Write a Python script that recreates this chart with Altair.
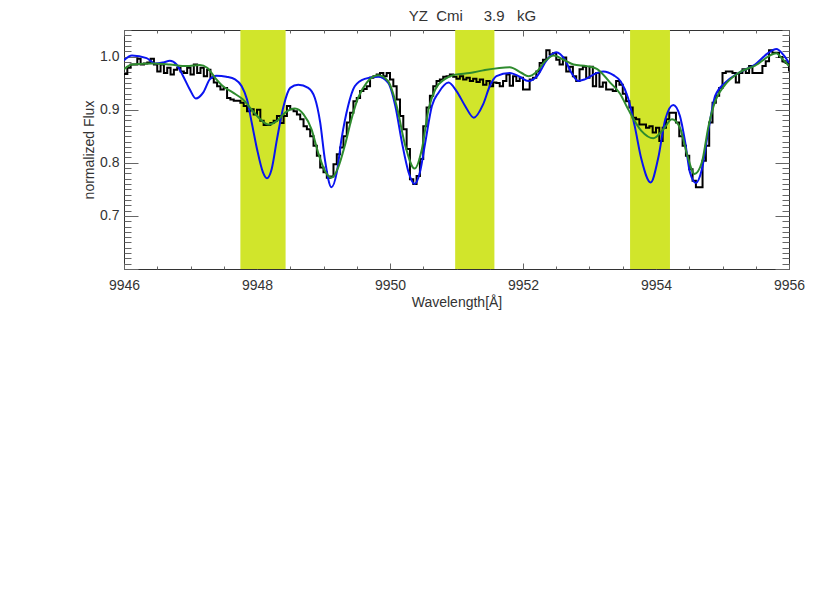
import altair as alt
import pandas as pd

# ---------------- data ----------------
obs_start = 9946.0
obs_step = 0.05
obs_flux = [
    0.967, 0.979, 0.985, 0.985, 0.996, 0.985, 0.987, 0.989, 0.996, 0.985,
    0.972, 0.985, 0.969, 0.979, 0.966, 0.975, 0.979, 0.972, 0.969, 0.979,
    0.966, 0.985, 0.969, 0.979, 0.963, 0.975, 0.960, 0.951, 0.944, 0.938,
    0.941, 0.922, 0.919, 0.917, 0.917, 0.913, 0.907, 0.897, 0.901, 0.891,
    0.900, 0.879, 0.871, 0.871, 0.875, 0.879, 0.888, 0.875, 0.888, 0.907,
    0.901, 0.897, 0.891, 0.882, 0.869, 0.863, 0.850, 0.832, 0.813, 0.791,
    0.782, 0.772, 0.774, 0.797, 0.816, 0.829, 0.850, 0.876, 0.894, 0.916,
    0.922, 0.935, 0.939, 0.944, 0.960, 0.963, 0.966, 0.969, 0.963, 0.969,
    0.957, 0.944, 0.919, 0.888, 0.863, 0.826, 0.769, 0.760, 0.775, 0.807,
    0.869, 0.904, 0.926, 0.944, 0.954, 0.957, 0.962, 0.963, 0.966, 0.962,
    0.958, 0.963, 0.957, 0.960, 0.954, 0.958, 0.952, 0.957, 0.947, 0.954,
    0.944, 0.951, 0.950, 0.944, 0.954, 0.966, 0.945, 0.963, 0.954, 0.960,
    0.938, 0.938, 0.957, 0.960, 0.972, 0.988, 0.994, 1.012, 1.004, 1.006,
    0.994, 0.985, 0.998, 0.972, 0.981, 0.963, 0.954, 0.976, 0.981, 0.960,
    0.981, 0.944, 0.969, 0.943, 0.951, 0.938, 0.938, 0.935, 0.954, 0.947,
    0.930, 0.916, 0.904, 0.885, 0.882, 0.872, 0.872, 0.866, 0.869, 0.857,
    0.866, 0.841, 0.866, 0.882, 0.894, 0.894, 0.876, 0.850, 0.832, 0.813,
    0.788, 0.766, 0.754, 0.754, 0.804, 0.832, 0.876, 0.913, 0.926, 0.941,
    0.969, 0.972, 0.972, 0.969, 0.951, 0.969, 0.976, 0.969, 0.982, 0.969,
    0.969, 0.969, 0.982, 0.991, 1.012, 1.007, 1.007, 0.999, 0.991, 0.988,
    0.972,
]

blue_wl = [
    9946.00, 9946.12, 9946.34, 9946.47, 9946.59, 9946.69, 9946.79, 9946.89,
    9946.99, 9947.08, 9947.19, 9947.29, 9947.39, 9947.54, 9947.67, 9947.77,
    9947.85, 9947.92, 9948.00, 9948.09, 9948.15, 9948.22, 9948.30, 9948.40,
    9948.50, 9948.62, 9948.77, 9948.87, 9948.95, 9949.02, 9949.12, 9949.20,
    9949.27, 9949.37, 9949.47, 9949.62, 9949.82, 9949.97, 9950.08, 9950.18,
    9950.28, 9950.37, 9950.45, 9950.53, 9950.63, 9950.73, 9950.88, 9951.00,
    9951.13, 9951.26, 9951.40, 9951.50, 9951.60, 9951.80, 9951.95, 9952.08,
    9952.21, 9952.36, 9952.50, 9952.63, 9952.73, 9952.83, 9952.93, 9953.11,
    9953.21, 9953.36, 9953.47, 9953.58, 9953.68, 9953.78, 9953.92, 9954.03,
    9954.14, 9954.26, 9954.36, 9954.44, 9954.51, 9954.60, 9954.69, 9954.79,
    9954.89, 9955.04, 9955.24, 9955.49, 9955.69, 9955.81, 9955.91, 9956.00,
]
blue_flux = [
    0.993, 1.002, 0.997, 0.987, 0.989, 0.992, 0.985, 0.963,
    0.938, 0.921, 0.932, 0.957, 0.964, 0.962, 0.957, 0.944,
    0.919, 0.876, 0.826, 0.782, 0.771, 0.788, 0.844, 0.907,
    0.941, 0.947, 0.941, 0.922, 0.876, 0.807, 0.754, 0.782,
    0.844, 0.907, 0.944, 0.958, 0.962, 0.951, 0.907, 0.838,
    0.782, 0.760, 0.782, 0.838, 0.907, 0.932, 0.951, 0.935,
    0.907, 0.885, 0.910, 0.944, 0.963, 0.969, 0.962, 0.954,
    0.963, 0.994, 1.008, 0.994, 0.969, 0.954, 0.957, 0.969,
    0.972, 0.965, 0.953, 0.922, 0.869, 0.807, 0.763, 0.807,
    0.882, 0.909, 0.888, 0.838, 0.782, 0.762, 0.788, 0.863,
    0.926, 0.951, 0.969, 0.985, 1.007, 1.014, 1.004, 0.988,
]

green_wl = [
    9946.00, 9946.12, 9946.44, 9946.69, 9946.94, 9947.14, 9947.25, 9947.37,
    9947.49, 9947.64, 9947.79, 9947.94, 9948.05, 9948.17, 9948.30, 9948.42,
    9948.57, 9948.70, 9948.82, 9948.92, 9949.02, 9949.12, 9949.22, 9949.32,
    9949.42, 9949.52, 9949.65, 9949.82, 9949.97, 9950.10, 9950.23, 9950.37,
    9950.48, 9950.58, 9950.68, 9950.83, 9950.98, 9951.20, 9951.40, 9951.80,
    9951.98, 9952.08, 9952.21, 9952.33, 9952.46, 9952.61, 9952.76, 9952.96,
    9953.11, 9953.31, 9953.46, 9953.58, 9953.78, 9953.96, 9954.11, 9954.24,
    9954.36, 9954.46, 9954.58, 9954.69, 9954.79, 9954.89, 9955.04, 9955.24,
    9955.49, 9955.81, 9955.89, 9956.00,
]
green_flux = [
    0.976, 0.985, 0.987, 0.985, 0.982, 0.984, 0.979, 0.960,
    0.944, 0.932, 0.919, 0.897, 0.882, 0.872, 0.879, 0.894,
    0.902, 0.891, 0.863, 0.819, 0.785, 0.772, 0.791, 0.832,
    0.882, 0.922, 0.951, 0.965, 0.954, 0.907, 0.832, 0.789,
    0.826, 0.901, 0.938, 0.958, 0.966, 0.969, 0.974, 0.980,
    0.969, 0.963, 0.972, 0.991, 1.002, 0.994, 0.985, 0.982,
    0.977, 0.951, 0.930, 0.901, 0.860, 0.846, 0.863, 0.882,
    0.866, 0.819, 0.779, 0.801, 0.869, 0.916, 0.947, 0.969,
    0.983, 1.006, 0.997, 0.982,
]

band_start = [9947.75, 9950.98, 9953.61]
band_end = [9948.43, 9951.57, 9954.21]

x_major = [9946, 9948, 9950, 9952, 9954, 9956]
x_minor = [9946.5, 9947.0, 9947.5, 9948.5, 9949.0, 9949.5, 9950.5, 9951.0,
           9951.5, 9952.5, 9953.0, 9953.5, 9954.5, 9955.0, 9955.5]
y_labels = [0.7, 0.8, 0.9, 1.0]
y_major = [0.6, 0.7, 0.8, 0.9, 1.0]
y_minor = [round(0.60 + 0.01 * i, 2) for i in range(46)]

title_text = "YZ\u00a0\u00a0Cmi\u00a0\u00a0\u00a0\u00a0\u00a03.9\u00a0\u00a0\u00a0kG"

# ---------------- styling ----------------
W, H = 665, 239
FONT = "Liberation Sans"
TEXT = "#333333"
TICK = "#666666"
BAND = "#d1e52b"

obs_df = pd.DataFrame({
    "wl": [obs_start + obs_step * i for i in range(len(obs_flux))],
    "flux": obs_flux,
})
blue_df = pd.DataFrame({"wl": blue_wl, "flux": blue_flux})
green_df = pd.DataFrame({"wl": green_wl, "flux": green_flux})
band_df = pd.DataFrame({"start": band_start, "end": band_end})

xs = alt.Scale(domain=[9946, 9956], nice=False, zero=False)
ys = alt.Scale(domain=[0.6, 1.05], nice=False, zero=False)


def tick_axis(orient, offset, values, size):
    return alt.Axis(orient=orient, offset=offset, values=values, tickSize=size,
                    labels=False, domain=False, grid=False, title=None,
                    ticks=True, tickColor=TICK, tickWidth=1)


x_main = alt.Axis(orient="bottom", values=x_major, format="d", ticks=False,
                  tickSize=0, domain=False, grid=False, labelPadding=9,
                  labelFontSize=14, labelFont=FONT, labelColor=TEXT,
                  labelFlush=False, title="Wavelength[Å]", titleFontSize=14,
                  titleFont=FONT, titleColor=TEXT, titleFontWeight="normal",
                  titlePadding=3)
y_main = alt.Axis(orient="left", values=y_labels, format=".1f", ticks=False,
                  tickSize=0, domain=False, grid=False, labelPadding=5,
                  labelFontSize=14, labelFont=FONT, labelColor=TEXT,
                  labelFlush=False, title="normalized Flux", titleFontSize=14,
                  titleFont=FONT, titleColor=TEXT, titleFontWeight="normal",
                  titlePadding=3)

bands = alt.Chart(band_df).mark_rect(color=BAND).encode(
    x=alt.X("start:Q", scale=xs, axis=x_main),
    x2="end:Q",
)

obs = alt.Chart(obs_df).mark_line(
    interpolate="step-after", color="black", strokeWidth=2, clip=True
).encode(
    x=alt.X("wl:Q", scale=xs, axis=tick_axis("top", -H, x_major, 6)),
    y=alt.Y("flux:Q", scale=ys, axis=y_main),
)

blue = alt.Chart(blue_df).mark_line(
    interpolate="monotone", color="#0a14f0", strokeWidth=2, clip=True
).encode(
    x=alt.X("wl:Q", scale=xs, axis=tick_axis("top", -H, x_minor, 3)),
    y=alt.Y("flux:Q", scale=ys, axis=tick_axis("right", -W, y_major, 14)),
)

green = alt.Chart(green_df).mark_line(
    interpolate="monotone", color="#2e8b2e", strokeWidth=2, clip=True
).encode(
    x=alt.X("wl:Q", scale=xs, axis=tick_axis("bottom", -H, x_major, 6)),
    y=alt.Y("flux:Q", scale=ys, axis=tick_axis("right", -W, y_minor, 7)),
)

dummy1 = alt.Chart(obs_df).mark_point(opacity=0).encode(
    x=alt.X("wl:Q", scale=xs, axis=tick_axis("bottom", -H, x_minor, 3)),
    y=alt.Y("flux:Q", scale=ys, axis=tick_axis("left", -W, y_major, 14)),
)

dummy2 = alt.Chart(obs_df).mark_point(opacity=0).encode(
    x=alt.X("wl:Q", scale=xs, axis=None),
    y=alt.Y("flux:Q", scale=ys, axis=tick_axis("left", -W, y_minor, 7)),
)

chart = alt.layer(bands, obs, blue, green, dummy1, dummy2).resolve_axis(
    x="independent", y="independent"
).properties(
    width=W,
    height=H,
    title=alt.TitleParams(title_text, fontSize=15, font=FONT, color=TEXT,
                          fontWeight="normal", offset=6, dx=16),
    autosize=alt.AutoSizeParams(type="none"),
    padding={"left": 116, "top": 22, "right": 25, "bottom": 60},
).configure_view(
    stroke="#333333", strokeWidth=1
)

chart.save("out.html", embed_options={"renderer": "svg", "actions": False})
